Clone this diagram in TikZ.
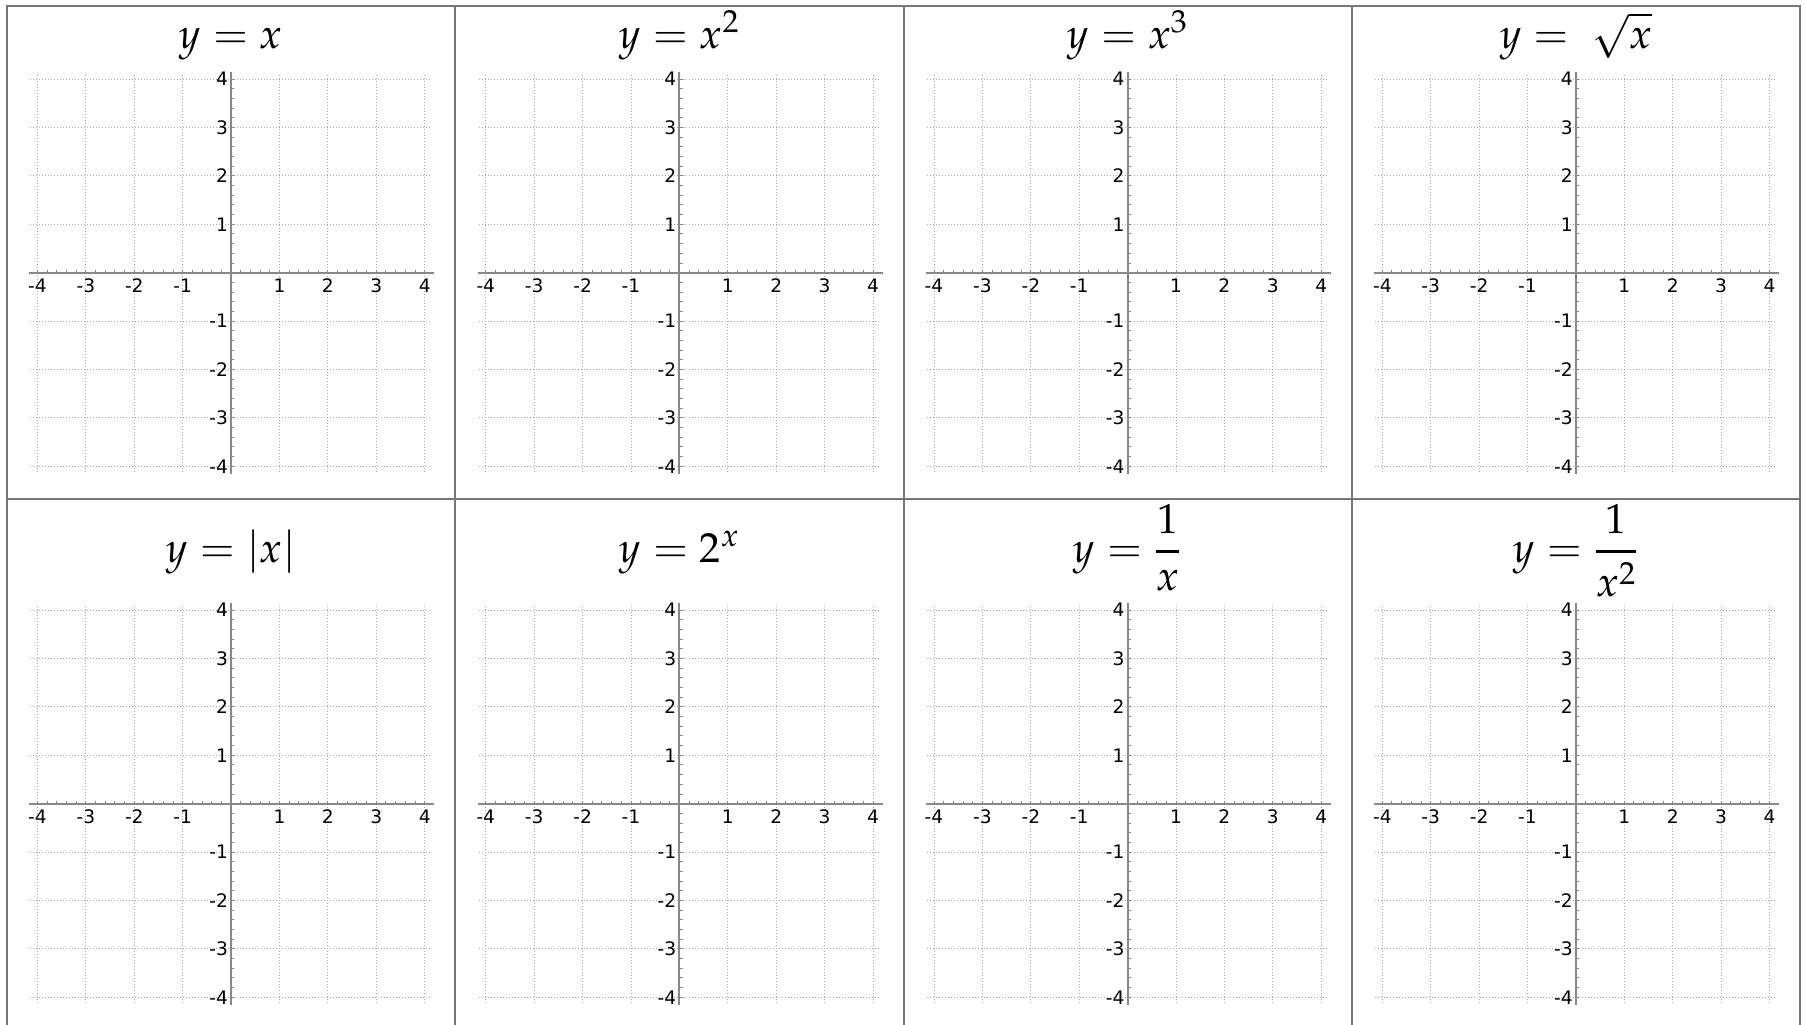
\documentclass[tikz,border=0pt]{standalone}
\usepackage{mathpazo}
\usepackage[no-math]{fontspec}
\newfontfamily\ticksf{DejaVu Sans}
\definecolor{framec}{HTML}{777777}
\definecolor{axisc}{HTML}{888888}
\definecolor{gridc}{HTML}{A8A8A8}
\begin{document}
\begin{tikzpicture}[x=0.5pt,y=-0.5pt,
  frameline/.style={draw=framec,line width=1pt},
  gridline/.style={draw=gridc,line width=0.5pt,dash pattern=on 0.5pt off 1pt},
  axisline/.style={draw=axisc,line width=1pt},
  tickline/.style={draw=axisc,line width=0.5pt},
  ticklab/.style={font=\ticksf\fontsize{9.3}{10}\selectfont,inner sep=0pt,text=black},
  titlelab/.style={font=\fontsize{21}{26}\selectfont,inner sep=0pt,anchor=base,text=black}]
\useasboundingbox (0,0) rectangle (1805,1024);
\fill[white] (0,0) rectangle (1805,1024);
% panels
\foreach \cx/\oy [count=\k] in {231.1/272.7, 679.4/272.7, 1127.6/272.7, 1575.9/272.7, 231.1/803.7, 679.4/803.7, 1127.6/803.7, 1575.9/803.7}{
  \begin{scope}[shift={(\cx,\oy)}, x=24.2pt, y=24.2pt]
    \foreach \j in {-4,...,4}{
      \draw[gridline] (-4.15,\j) -- (4.15,\j);
      \draw[gridline] (\j,-4.12) -- (\j,4.12);
    }
    \draw[axisline] (-4.17,0) -- (4.2,0);
    \draw[axisline] (0,-4.15) -- (0,4.15);
    \foreach \t in {-4,-3.8,...,4.01}{
      \draw[tickline] (\t,0) -- ++(0pt,1.6pt);
      \draw[tickline] (0,\t) -- ++(1.6pt,0pt);
    }
    \foreach \v in {-4,-3,-2,-1,1,2,3,4}{
      \node[ticklab,anchor=north] (xl-\k-\v) at ([yshift=-2.8pt]\v,0) {\v};
      \node[ticklab,anchor=east] (yl-\k-\v) at ([xshift=-1.4pt]0,\v) {\v};
    }
  \end{scope}
}
% frame
\draw[frameline] (7,6) rectangle (1800,1040);
\draw[frameline] (455.25,6) -- (455.25,1040);
\draw[frameline] (903.5,6) -- (903.5,1040);
\draw[frameline] (1351.75,6) -- (1351.75,1040);
\draw[frameline] (7,499) -- (1800,499);
% titles
\node[titlelab] (t1) at (231.1,48) {$y=x$};
\node[titlelab] (t2) at (679.4,48) {$y=x^2$};
\node[titlelab] (t3) at (1127.6,48) {$y=x^3$};
\node[titlelab] (t4) at (1575.9,48) {$y=\;\sqrt{x}$};
\node[titlelab] (t5) at (231.1,562) {$y=|x|$};
\node[titlelab] (t6) at (679.4,562) {$y=2^x$};
\node[titlelab] (t7) at (1127.6,562) {$\displaystyle y={1\above1.6pt x}$};
\node[titlelab] (t8) at (1575.9,562) {$\displaystyle y={1\above1.6pt x^2}$};
\end{tikzpicture}
\end{document}
